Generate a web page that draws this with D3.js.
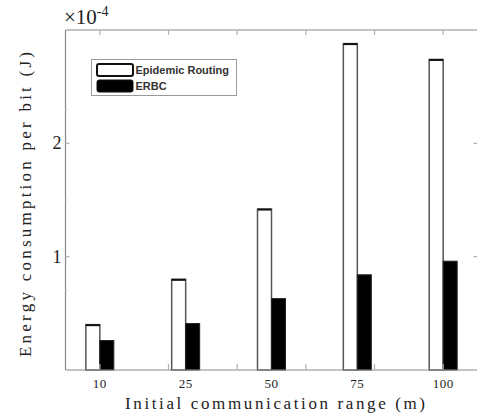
<!DOCTYPE html>
<html>
<head>
<meta charset="utf-8">
<script src="https://cdn.jsdelivr.net/npm/d3@7"></script>
<style>
  body { margin: 0; background: #fff; }
  svg { display: block; }
</style>
</head>
<body>
<div id="chart"></div>
<script>
// categories (initial communication range, m)
const categories = ["10", "25", "50", "75", "100"];
// energy per bit, in units of 1e-4 J
const epidemic = [0.40, 0.80, 1.42, 2.88, 2.74];
const erbc = [0.26, 0.41, 0.63, 0.84, 0.96];
const seriesNames = ["Epidemic Routing", "ERBC"];
const yTicks = [1, 2];
const yFaintTicks = [0.7, 1.5, 2.3];
const xTicks = [1, 1.8, 2.6, 3.4, 4.2, 5];

const WIDTH = 477;
const HEIGHT = 414;
const margin = { left: 65.5, right: -0.5, top: 30, bottom: 44 };

const svg = d3.select("#chart")
  .append("svg")
    .attr("width", WIDTH)
    .attr("height", HEIGHT);

const x = d3.scaleLinear()
  .domain([0.6, 5.4])
  .range([margin.left, WIDTH - margin.right]);

const y = d3.scaleLinear()
  .domain([0, 3])
  .range([HEIGHT - margin.bottom, margin.top]);

const barW = x(1.163) - x(1);
const serifFont = "'Liberation Serif', 'DejaVu Serif', serif";
const axisColor = "#8a8a8a";

// bars
const g = svg.append("g");
g.selectAll("rect.epi")
  .data(epidemic)
  .enter()
  .append("rect")
    .attr("class", "epi")
    .attr("x", (d, i) => x(i + 1) - barW)
    .attr("y", d => y(d))
    .attr("width", barW)
    .attr("height", d => y(0) - y(d))
    .attr("fill", "#fff")
    .attr("stroke", "#555")
    .attr("stroke-width", 1.5);

g.selectAll("line.epitop")
  .data(epidemic)
  .enter()
  .append("line")
    .attr("class", "epitop")
    .attr("x1", (d, i) => x(i + 1) - barW)
    .attr("x2", (d, i) => x(i + 1))
    .attr("y1", d => y(d) + 0.5)
    .attr("y2", d => y(d) + 0.5)
    .attr("stroke", "#111")
    .attr("stroke-width", 2);

g.selectAll("rect.erbc")
  .data(erbc)
  .enter()
  .append("rect")
    .attr("class", "erbc")
    .attr("x", (d, i) => x(i + 1))
    .attr("y", d => y(d))
    .attr("width", barW)
    .attr("height", d => y(0) - y(d))
    .attr("fill", "#000")
    .attr("stroke", "#222")
    .attr("stroke-width", 1);

// frame lines
const frame = svg.append("g").attr("stroke", axisColor).attr("stroke-width", 1.2);
frame.append("line")
  .attr("x1", x.range()[0]).attr("x2", x.range()[1])
  .attr("y1", y(0)).attr("y2", y(0));
frame.append("line")
  .attr("x1", x.range()[0]).attr("x2", x.range()[1])
  .attr("y1", y(3)).attr("y2", y(3));
frame.append("line")
  .attr("x1", x.range()[0]).attr("x2", x.range()[0])
  .attr("y1", y(0)).attr("y2", y(3));

// x ticks (inward, top and bottom)
const tickG = svg.append("g").attr("stroke", "#b0b0b0").attr("stroke-width", 1.2);
xTicks.forEach(t => {
  tickG.append("line")
    .attr("x1", x(t)).attr("x2", x(t))
    .attr("y1", y(3)).attr("y2", y(3) + 5);
  tickG.append("line")
    .attr("x1", x(t)).attr("x2", x(t))
    .attr("y1", y(0)).attr("y2", y(0) - 6);
});
// y ticks (inward, left and right)
yTicks.forEach(t => {
  tickG.append("line")
    .attr("x1", x.range()[0]).attr("x2", x.range()[0] + 4)
    .attr("y1", y(t)).attr("y2", y(t));
  tickG.append("line")
    .attr("x1", x.range()[1]).attr("x2", x.range()[1] - 4)
    .attr("y1", y(t)).attr("y2", y(t));
});
yFaintTicks.forEach(t => {
  tickG.append("line")
    .attr("x1", x.range()[0]).attr("x2", x.range()[0] + 2)
    .attr("y1", y(t)).attr("y2", y(t))
    .attr("stroke", "#d0d0d0");
});

// y tick labels
svg.append("g")
  .selectAll("text")
  .data(yTicks)
  .enter()
  .append("text")
    .attr("x", x.range()[0] - 4)
    .attr("y", d => y(d) + 6)
    .attr("text-anchor", "end")
    .attr("font-family", serifFont)
    .attr("font-size", 18)
    .attr("fill", "#222")
    .text(d => d);

// x category labels
svg.append("g")
  .selectAll("text")
  .data(categories)
  .enter()
  .append("text")
    .attr("x", (d, i) => x(i + 1))
    .attr("y", y(0) + 18)
    .attr("text-anchor", "middle")
    .attr("font-family", serifFont)
    .attr("font-size", 13)
    .attr("letter-spacing", 0.5)
    .attr("fill", "#222")
    .text(d => d);

// axis titles
svg.append("text")
  .attr("x", 125)
  .attr("y", 409)
  .attr("textLength", 300)
  .attr("lengthAdjust", "spacing")
  .attr("font-family", serifFont)
  .attr("font-size", 17)
  .attr("fill", "#222")
  .text("Initial communication range (m)");

svg.append("text")
  .attr("transform", "translate(31,357) rotate(-90)")
  .attr("textLength", 305)
  .attr("lengthAdjust", "spacing")
  .attr("font-family", serifFont)
  .attr("font-size", 17)
  .attr("fill", "#222")
  .text("Energy consumption per bit (J)");

// exponent
const expo = svg.append("text")
  .attr("x", 64)
  .attr("y", 24)
  .attr("font-family", serifFont)
  .attr("font-size", 21)
  .attr("fill", "#222");
expo.append("tspan").text("\u00d710");
expo.append("tspan")
  .attr("dy", -8)
  .attr("font-size", 14)
  .text("-4");

// legend
const leg = svg.append("g");
leg.append("rect")
  .attr("x", 91.5).attr("y", 59.5)
  .attr("width", 145).attr("height", 36)
  .attr("fill", "#fff")
  .attr("stroke", "#999")
  .attr("stroke-width", 1);
seriesNames.forEach((name, i) => {
  leg.append("rect")
    .attr("x", 97).attr("y", 64 + i * 16)
    .attr("width", 36).attr("height", 12)
    .attr("rx", 2)
    .attr("fill", i === 0 ? "#fff" : "#000")
    .attr("stroke", "#111")
    .attr("stroke-width", i === 0 ? 2 : 1);
  leg.append("text")
    .attr("x", 135.5).attr("y", 74 + i * 16)
    .attr("font-family", "'Liberation Sans', Arial, sans-serif")
    .attr("font-size", 11)
    .attr("font-weight", "bold")
    .attr("fill", "#333")
    .text(name);
});
</script>
</body>
</html>
